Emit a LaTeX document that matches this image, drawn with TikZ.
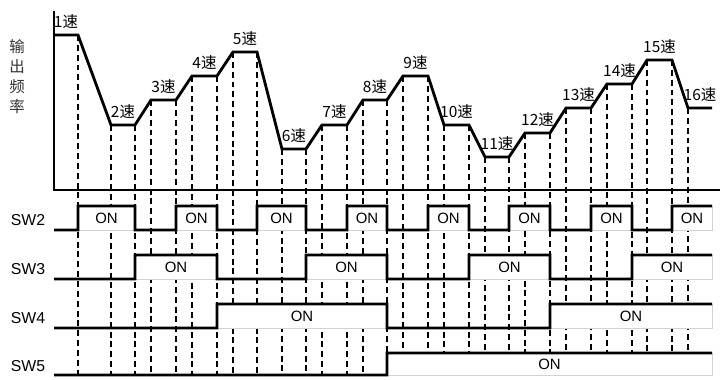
\documentclass[tikz,border=0pt]{standalone}
\usepackage{fontspec}
\setmainfont{Liberation Sans}
\newfontfamily\cjk{Noto Sans CJK SC}

\begin{document}
\begin{tikzpicture}[
    font=\fontsize{8.5}{10}\selectfont,
    axis/.style   = {line width=0.8pt},
    curve/.style  = {line width=1.6pt, line join=miter},
    guide/.style  = {line width=0.6pt, dash pattern=on 3.4pt off 2.2pt},
    signal/.style = {line width=1.6pt, line join=miter},
    onbox/.style  = {draw=gray!35, fill=white, line width=0.5pt, rectangle,
                     inner sep=0pt, outer sep=0pt, minimum height=0.48cm},
    spd/.style    = {font=\cjk\fontsize{8.8}{10}\selectfont, inner sep=0pt},
    swlbl/.style  = {font=\fontsize{9}{10}\selectfont, inner sep=0pt},
  ]

  \useasboundingbox (0,0) rectangle (14.52cm,-7.60cm);

  % axes
  \coordinate (ytop) at (1.080cm, -0.220cm);
  \coordinate (orig) at (1.080cm, -3.800cm);
  \coordinate (xend) at (14.400cm, -3.800cm);
  \coordinate (base) at (0.000cm, -7.500cm);

  % corners of the frequency curve
  \coordinate (c0)  at (1.080cm, -0.700cm);
  \coordinate (c1)  at (1.560cm, -0.700cm);
  \coordinate (c2)  at (2.220cm, -2.500cm);
  \coordinate (c3)  at (2.700cm, -2.500cm);
  \coordinate (c4)  at (3.020cm, -2.000cm);
  \coordinate (c5)  at (3.520cm, -2.000cm);
  \coordinate (c6)  at (3.840cm, -1.520cm);
  \coordinate (c7)  at (4.340cm, -1.520cm);
  \coordinate (c8)  at (4.660cm, -1.040cm);
  \coordinate (c9)  at (5.140cm, -1.040cm);
  \coordinate (c10) at (5.640cm, -2.980cm);
  \coordinate (c11) at (6.120cm, -2.980cm);
  \coordinate (c12) at (6.440cm, -2.500cm);
  \coordinate (c13) at (6.940cm, -2.500cm);
  \coordinate (c14) at (7.260cm, -2.000cm);
  \coordinate (c15) at (7.740cm, -2.000cm);
  \coordinate (c16) at (8.060cm, -1.520cm);
  \coordinate (c17) at (8.560cm, -1.520cm);
  \coordinate (c18) at (8.880cm, -2.500cm);
  \coordinate (c19) at (9.380cm, -2.500cm);
  \coordinate (c20) at (9.700cm, -3.140cm);
  \coordinate (c21) at (10.180cm, -3.140cm);
  \coordinate (c22) at (10.500cm, -2.660cm);
  \coordinate (c23) at (11.000cm, -2.660cm);
  \coordinate (c24) at (11.320cm, -2.160cm);
  \coordinate (c25) at (11.820cm, -2.160cm);
  \coordinate (c26) at (12.140cm, -1.680cm);
  \coordinate (c27) at (12.640cm, -1.680cm);
  \coordinate (c28) at (12.940cm, -1.200cm);
  \coordinate (c29) at (13.440cm, -1.200cm);
  \coordinate (c30) at (13.760cm, -2.160cm);
  \coordinate (c31) at (14.240cm, -2.160cm);

  % guides
  \draw[guide] (c1) -- (c1 |- base);
  \draw[guide] (c2) -- (c2 |- base);
  \draw[guide] (c3) -- (c3 |- base);
  \draw[guide] (c4) -- (c4 |- base);
  \draw[guide] (c5) -- (c5 |- base);
  \draw[guide] (c6) -- (c6 |- base);
  \draw[guide] (c7) -- (c7 |- base);
  \draw[guide] (c8) -- (c8 |- base);
  \draw[guide] (c9) -- (c9 |- base);
  \draw[guide] (c10) -- (c10 |- base);
  \draw[guide] (c11) -- (c11 |- base);
  \draw[guide] (c12) -- (c12 |- base);
  \draw[guide] (c13) -- (c13 |- base);
  \draw[guide] (c14) -- (c14 |- base);
  \draw[guide] (c15) -- (c15 |- base);
  \draw[guide] (c16) -- (c16 |- base);
  \draw[guide] (c17) -- (c17 |- base);
  \draw[guide] (c18) -- (c18 |- base);
  \draw[guide] (c19) -- (c19 |- base);
  \draw[guide] (c20) -- (c20 |- base);
  \draw[guide] (c21) -- (c21 |- base);
  \draw[guide] (c22) -- (c22 |- base);
  \draw[guide] (c23) -- (c23 |- base);
  \draw[guide] (c24) -- (c24 |- base);
  \draw[guide] (c25) -- (c25 |- base);
  \draw[guide] (c26) -- (c26 |- base);
  \draw[guide] (c27) -- (c27 |- base);
  \draw[guide] (c28) -- (c28 |- base);
  \draw[guide] (c29) -- (c29 |- base);
  \draw[guide] (c30) -- (c30 |- base);

  % ON boxes
  \node[onbox, minimum width=1.14cm] (on2a) at (2.130cm, -4.360cm) {ON};
  \node[onbox, minimum width=0.82cm] (on2b) at (3.930cm, -4.360cm) {ON};
  \node[onbox, minimum width=0.98cm] (on2c) at (5.630cm, -4.360cm) {ON};
  \node[onbox, minimum width=0.80cm] (on2d) at (7.340cm, -4.360cm) {ON};
  \node[onbox, minimum width=0.82cm] (on2e) at (8.970cm, -4.360cm) {ON};
  \node[onbox, minimum width=0.82cm] (on2f) at (10.590cm, -4.360cm) {ON};
  \node[onbox, minimum width=0.82cm] (on2g) at (12.230cm, -4.360cm) {ON};
  \node[onbox, minimum width=0.80cm] (on2h) at (13.840cm, -4.360cm) {ON};
  \node[onbox, minimum width=1.64cm] (on3a) at (3.520cm, -5.340cm) {ON};
  \node[onbox, minimum width=1.62cm] (on3b) at (6.930cm, -5.340cm) {ON};
  \node[onbox, minimum width=1.62cm] (on3c) at (10.190cm, -5.340cm) {ON};
  \node[onbox, minimum width=1.60cm] (on3d) at (13.440cm, -5.340cm) {ON};
  \node[onbox, minimum width=3.40cm] (on4a) at (6.040cm, -6.320cm) {ON};
  \node[onbox, minimum width=3.24cm] (on4b) at (12.620cm, -6.320cm) {ON};
  \node[onbox, minimum width=6.50cm, minimum height=0.44cm]
    (on5a) at (10.990cm, -7.280cm) {ON};

  % labels
  \node[font=\cjk\fontsize{8.8}{11.4}\selectfont, align=center, text=black!80]
    (ylbl) at (0.340cm, -1.540cm) {输\\出\\频\\率};
  \node[swlbl] (sw2) at (0.560cm, -4.400cm) {SW2};
  \node[swlbl] (sw3) at (0.560cm, -5.380cm) {SW3};
  \node[swlbl] (sw4) at (0.560cm, -6.360cm) {SW4};
  \node[swlbl] (sw5) at (0.560cm, -7.320cm) {SW5};

  \node[spd] (s1)  at (1.320cm, -0.440cm) {1速};
  \node[spd] (s2)  at (2.460cm, -2.240cm) {2速};
  \node[spd] (s3)  at (3.270cm, -1.740cm) {3速};
  \node[spd] (s4)  at (4.090cm, -1.260cm) {4速};
  \node[spd] (s5)  at (4.900cm, -0.780cm) {5速};
  \node[spd] (s6)  at (5.880cm, -2.720cm) {6速};
  \node[spd] (s7)  at (6.690cm, -2.240cm) {7速};
  \node[spd] (s8)  at (7.500cm, -1.740cm) {8速};
  \node[spd] (s9)  at (8.310cm, -1.260cm) {9速};
  \node[spd] (s10) at (9.130cm, -2.240cm) {10速};
  \node[spd] (s11) at (9.940cm, -2.880cm) {11速};
  \node[spd] (s12) at (10.750cm, -2.400cm) {12速};
  \node[spd] (s13) at (11.570cm, -1.900cm) {13速};
  \node[spd] (s14) at (12.390cm, -1.420cm) {14速};
  \node[spd] (s15) at (13.190cm, -0.940cm) {15速};
  \node[spd] (s16) at (14.000cm, -1.900cm) {16速};

  \draw[axis] (ytop) -- (orig) -- (xend);
  \draw[curve] (c0) -- (c1) -- (c2) -- (c3) -- (c4) -- (c5) -- (c6) -- (c7)
    -- (c8) -- (c9) -- (c10) -- (c11) -- (c12) -- (c13) -- (c14) -- (c15)
    -- (c16) -- (c17) -- (c18) -- (c19) -- (c20) -- (c21) -- (c22) -- (c23)
    -- (c24) -- (c25) -- (c26) -- (c27) -- (c28) -- (c29) -- (c30) -- (c31);

  % switch signals
  \draw[signal] (1.080cm, -4.600cm) -- (on2a.south west) |- (on2a.north east)
    |- (on2b.south west) |- (on2b.north east)
    |- (on2c.south west) |- (on2c.north east)
    |- (on2d.south west) |- (on2d.north east)
    |- (on2e.south west) |- (on2e.north east)
    |- (on2f.south west) |- (on2f.north east)
    |- (on2g.south west) |- (on2g.north east)
    |- (on2h.south west) |- (on2h.north east);
  \draw[signal] (1.080cm, -5.580cm) -- (on3a.south west) |- (on3a.north east)
    |- (on3b.south west) |- (on3b.north east)
    |- (on3c.south west) |- (on3c.north east)
    |- (on3d.south west) |- (on3d.north east);
  \draw[signal] (1.080cm, -6.560cm) -- (on4a.south west) |- (on4a.north east)
    |- (on4b.south west) |- (on4b.north east);
  \draw[signal] (1.080cm, -7.500cm) -- (on5a.south west) |- (on5a.north east);

\end{tikzpicture}
\end{document}
